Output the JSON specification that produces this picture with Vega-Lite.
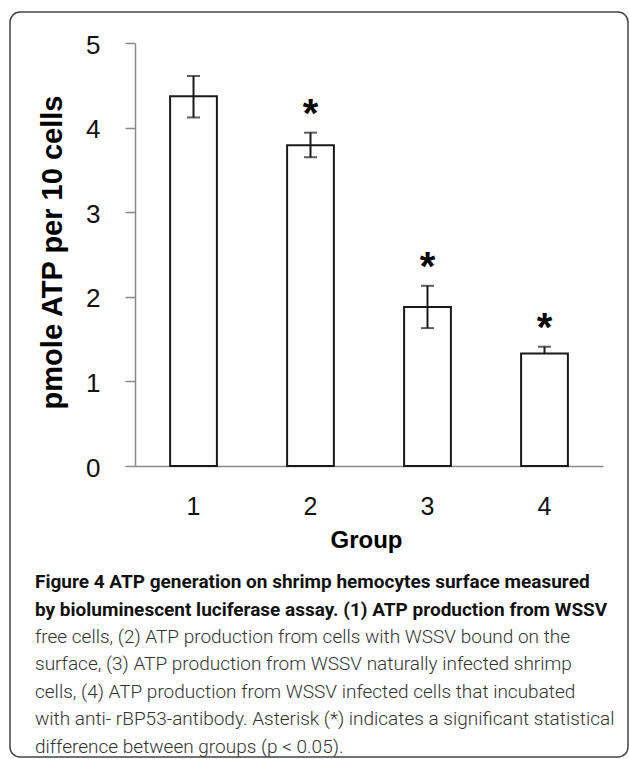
{
  "$schema": "https://vega.github.io/schema/vega-lite/v6.json",
  "width": 618,
  "height": 745,
  "autosize": "none",
  "padding": {"left": 10, "top": 12, "right": 1, "bottom": 2},
  "background": "white",
  "data": {
    "values": [
      {"group": "1", "mean": 4.37, "lo": 4.12, "hi": 4.61, "sig": ""},
      {"group": "2", "mean": 3.79, "lo": 3.65, "hi": 3.94, "sig": "*"},
      {"group": "3", "mean": 1.88, "lo": 1.63, "hi": 2.13, "sig": "*"},
      {"group": "4", "mean": 1.33, "lo": 1.33, "hi": 1.41, "sig": "*"}
    ]
  },
  "title": {
    "text": ["Figure 4 ATP generation on shrimp hemocytes surface measured", "by bioluminescent luciferase assay. (1) ATP production from WSSV"],
    "subtitle": [
      "free cells, (2) ATP production from cells with WSSV bound on the",
      "surface, (3) ATP production from WSSV naturally infected shrimp",
      "cells, (4) ATP production from WSSV infected cells that incubated",
      "with anti- rBP53-antibody. Asterisk (*) indicates a significant statistical",
      "difference between groups (p < 0.05)."
    ],
    "orient": "bottom",
    "anchor": "start",
    "frame": "group",
    "offset": -184,
    "dx": 25,
    "font": "Roboto",
    "fontSize": 19,
    "fontWeight": "bold",
    "color": "#111111",
    "lineHeight": 27.5,
    "subtitleFont": "Roboto",
    "subtitleFontSize": 19,
    "subtitleFontWeight": 300,
    "subtitleColor": "#333333",
    "subtitleLineHeight": 27.5,
    "subtitlePadding": 8
  },
  "encoding": {
    "x": {
      "field": "group",
      "type": "nominal",
      "title": "Group",
      "scale": {"range": [125, 593], "paddingInner": 0.6, "paddingOuter": 0.3},
      "axis": {"offset": -291, "labelAngle": 0}
    }
  },
  "layer": [
    {
      "mark": {"type": "bar", "fill": "white", "stroke": "#1a1a1a", "strokeWidth": 2},
      "encoding": {
        "y": {
          "field": "mean",
          "type": "quantitative",
          "title": "pmole ATP per 10 cells",
          "scale": {"domain": [0, 5], "range": [454, 31]},
          "axis": {"offset": -125, "values": [0, 1, 2, 3, 4, 5], "format": "d"}
        }
      }
    },
    {
      "mark": {"type": "rule", "color": "#1a1a1a", "strokeWidth": 2},
      "encoding": {
        "y": {"field": "lo", "type": "quantitative", "title": "pmole ATP per 10 cells"},
        "y2": {"field": "hi"}
      }
    },
    {
      "mark": {"type": "tick", "color": "#1a1a1a", "size": 13, "thickness": 2},
      "encoding": {
        "y": {"field": "hi", "type": "quantitative", "title": "pmole ATP per 10 cells"}
      }
    },
    {
      "transform": [{"filter": "datum.lo < datum.mean"}],
      "mark": {"type": "tick", "color": "#1a1a1a", "size": 13, "thickness": 2},
      "encoding": {
        "y": {"field": "lo", "type": "quantitative", "title": "pmole ATP per 10 cells"}
      }
    },
    {
      "transform": [{"filter": "datum.sig != ''"}],
      "mark": {"type": "text", "font": "Liberation Sans", "fontSize": 40, "fontWeight": "bold", "baseline": "alphabetic", "dy": -6, "color": "#000000"},
      "encoding": {
        "y": {"field": "hi", "type": "quantitative", "title": "pmole ATP per 10 cells"},
        "text": {"field": "sig"}
      }
    }
  ],
  "config": {
    "view": {"stroke": "#444444", "strokeWidth": 1.5, "cornerRadius": 10, "fill": "white"},
    "axisY": {
      "grid": false,
      "domainColor": "#8a8a8a",
      "domainWidth": 1.5,
      "tickColor": "#8a8a8a",
      "tickWidth": 1.5,
      "tickSize": 10,
      "labelFont": "Liberation Sans",
      "labelFontSize": 26,
      "labelColor": "#111111",
      "labelPadding": 25,
      "labelOffset": 2,
      "titleFont": "Liberation Sans",
      "titleFontSize": 29,
      "titleFontWeight": "bold",
      "titleColor": "#000000",
      "titleAngle": -90,
      "titleX": -83,
      "titleY": 240,
      "titleAlign": "center",
      "titleBaseline": "middle"
    },
    "axisX": {
      "grid": false,
      "domainColor": "#8a8a8a",
      "domainWidth": 1.5,
      "ticks": false,
      "tickSize": 0,
      "labelFont": "Liberation Sans",
      "labelFontSize": 25,
      "labelColor": "#111111",
      "labelPadding": 28,
      "titleFont": "Liberation Sans",
      "titleFontSize": 24,
      "titleFontWeight": "bold",
      "titleColor": "#000000",
      "titleX": 356,
      "titleY": 74,
      "titleAlign": "center",
      "titleBaseline": "middle"
    }
  }
}
